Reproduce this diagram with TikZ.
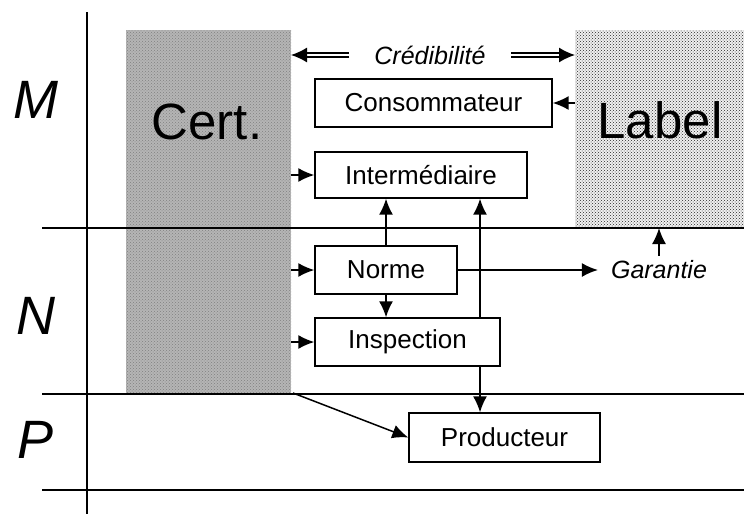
\documentclass[tikz,border=0pt]{standalone}
\usepackage{fontspec}
\setmainfont{Liberation Sans}
\usetikzlibrary{arrows.meta,patterns}
\begin{document}
\begin{tikzpicture}[x=1pt,y=-1pt,
  box/.style={draw,line width=1.4pt,fill=white,inner sep=0pt,font=\fontsize{26}{28}\selectfont},
  arr/.style={line width=1.5pt,-{Latex[length=16pt,width=14pt]}},
  dbl/.style={line width=1.4pt,double,double distance=2.5pt,-{Latex[length=16pt,width=15pt]}},
  rule/.style={line width=1.2pt},
  level/.style={font=\fontsize{54}{60}\selectfont\itshape},
  big/.style={font=\fontsize{51}{56}\selectfont},
  ital/.style={font=\fontsize{25}{28}\selectfont\itshape}]
\useasboundingbox (0,0) rectangle (744,514);

% shaded panels
\fill[gray!58] (126,30) rectangle (291,394);
\fill[pattern=crosshatch dots,pattern color=black!50] (126,30) rectangle (291,394);
\fill[gray!12] (575,30) rectangle (744,228);
\fill[pattern=crosshatch dots,pattern color=black!85] (575,30) rectangle (744,228);
\coordinate (certR) at (291,0);
\coordinate (labL) at (575,0);
\coordinate (labB) at (0,228);
\coordinate (certSE) at (293,393);

\node[big] (cert) at (207,122) {Cert.};
\node[big] (label) at (660,120) {Label};

% level rules
\draw[rule] (87,12) -- (87,514);
\draw[rule] (42,228) -- (744,228);
\draw[rule] (42,394) -- (744,394);
\draw[rule] (42,490) -- (744,490);

\node[level] (M) at (36,100) {M};
\node[level] (N) at (36,316) {N};
\node[level] (P) at (36,440) {P};

% boxes
\node[box,minimum width=237pt,minimum height=48pt] (cons) at (433.5,103) {Consommateur};
\node[box,minimum width=212pt,minimum height=46pt] (inter) at (421,175) {Intermédiaire};
\node[box,minimum width=142pt,minimum height=48pt] (norme) at (386,270) {Norme};
\node[box,minimum width=185pt,minimum height=48pt] (insp) at (407.5,342) {Inspection};
\node[box,minimum width=191pt,minimum height=49pt] (prod) at (504.5,437.5) {Producteur};

\node[ital,inner xsep=25pt] (cred) at (430,55) {Crédibilité};
\node[ital,inner xsep=13pt,inner ysep=5pt] (gar) at (659,270) {Garantie};

% credibility arrows
\draw[dbl] (cred.west) -- (cred.west -| certR);
\draw[dbl] (cred.east) -- (cred.east -| labL);

% certifier and label arrows
\draw[arr] (cons.east -| labL) -- (cons.east);
\draw[arr] (inter.west -| certR) -- (inter.west);
\draw[arr] (norme.west -| certR) -- (norme.west);
\draw[arr] (insp.west -| certR) -- (insp.west);
\draw[arr] (certSE) -- (prod.west);

% internal links
\draw[arr] (norme.north) -- (norme.north |- inter.south);
\draw[arr] (norme.south) -- (norme.south |- insp.north);
\coordinate (vx) at (480,0);
\draw[arr] (vx |- insp.north) -- (vx |- inter.south);
\draw[arr] (vx |- insp.south) -- (vx |- prod.north);
\draw[arr] (norme.east) -- (gar.west);
\draw[arr] (gar.north) -- (gar.north |- labB);
\end{tikzpicture}
\end{document}
